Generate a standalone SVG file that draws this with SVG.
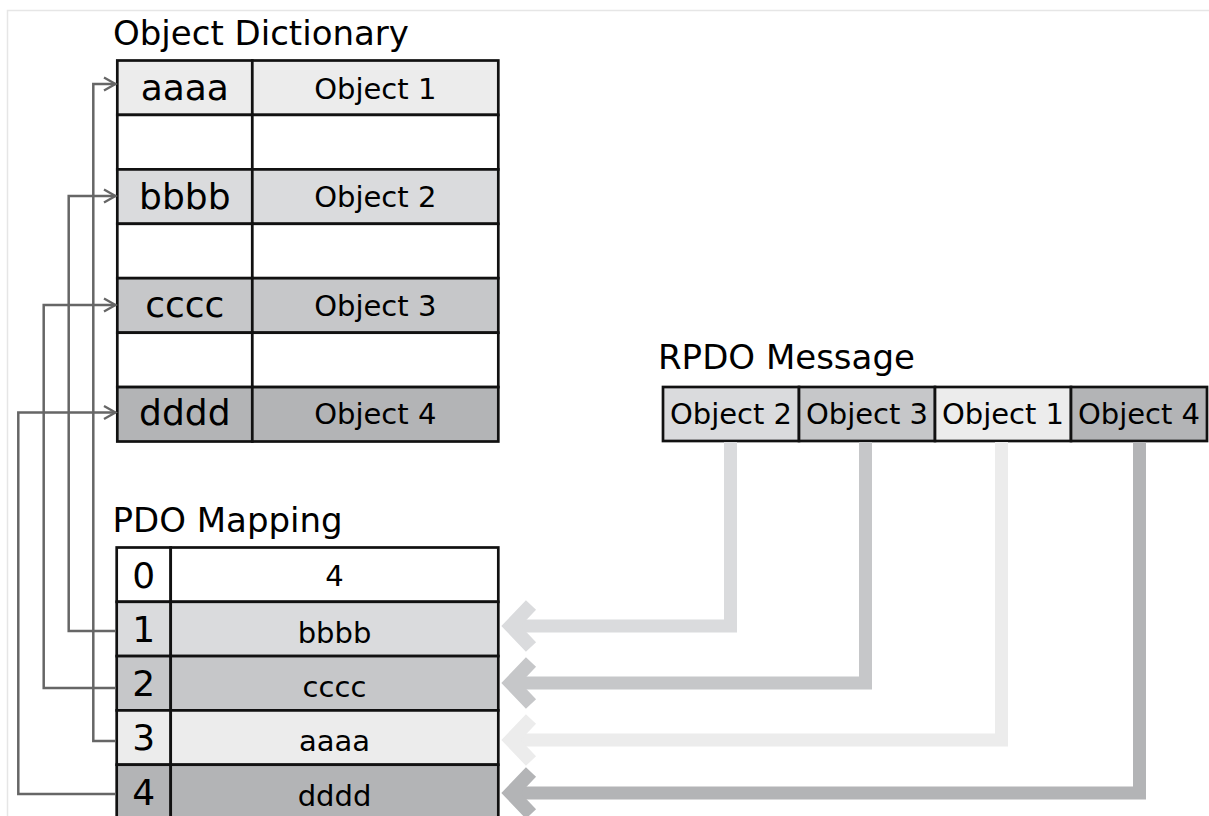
<svg xmlns="http://www.w3.org/2000/svg" width="1209" height="816" viewBox="0 0 1209 816">
<defs>
<style>
.t{font-family:"DejaVu Sans","Liberation Sans",sans-serif;fill:#000}
.title{font-size:34px}
.key{font-size:36px;text-anchor:middle}
.val{font-size:29px;text-anchor:middle}
.cell{stroke:#111;stroke-width:2.7}
.c0{fill:#ffffff}.c1{fill:#ececec}.c2{fill:#dadbdd}.c3{fill:#c6c7c9}.c4{fill:#b3b4b6}
.thin{fill:none;stroke:#666;stroke-width:2.5;marker-end:url(#ah)}
.thick{fill:none;stroke-width:13;stroke-linejoin:miter;stroke-linecap:butt}
.chev{fill:none;stroke-width:14;stroke-linejoin:miter;stroke-miterlimit:10;stroke-linecap:butt}
.s1{stroke:#ececec}.s2{stroke:#dadbdd}.s3{stroke:#c6c7c9}.s4{stroke:#b3b4b6}
</style>
<marker id="ah" markerUnits="userSpaceOnUse" markerWidth="16" markerHeight="16" refX="13" refY="8" orient="auto" viewBox="0 0 16 16" overflow="visible">
<path d="M1.5 1.5 L13 8 L1.5 14.5" fill="none" stroke="#666" stroke-width="2.3"/>
</marker>
</defs>
<rect width="1209" height="816" fill="#fff"/>
<path d="M7.5 820 V10.5 H1215" fill="none" stroke="#e6e6e6" stroke-width="1.5"/>

<text class="t title" x="113" y="45">Object Dictionary</text>
<text class="t title" x="112.5" y="532">PDO Mapping</text>
<text class="t title" x="658" y="369">RPDO Message</text>

<g id="od-aaaa">
<rect class="cell c1" x="117.3" y="60.5" width="135" height="54.4"/>
<rect class="cell c1" x="252.3" y="60.5" width="246" height="54.4"/>
<text class="t key" x="184.8" y="100">aaaa</text>
<text class="t val" x="375.3" y="99">Object 1</text>
</g>
<g id="od-empty1">
<rect class="cell c0" x="117.3" y="114.9" width="135" height="54.5"/>
<rect class="cell c0" x="252.3" y="114.9" width="246" height="54.5"/>
</g>
<g id="od-bbbb">
<rect class="cell c2" x="117.3" y="169.4" width="135" height="54.4"/>
<rect class="cell c2" x="252.3" y="169.4" width="246" height="54.4"/>
<text class="t key" x="184.8" y="209">bbbb</text>
<text class="t val" x="375.3" y="207">Object 2</text>
</g>
<g id="od-empty2">
<rect class="cell c0" x="117.3" y="223.8" width="135" height="54.4"/>
<rect class="cell c0" x="252.3" y="223.8" width="246" height="54.4"/>
</g>
<g id="od-cccc">
<rect class="cell c3" x="117.3" y="278.2" width="135" height="54.5"/>
<rect class="cell c3" x="252.3" y="278.2" width="246" height="54.5"/>
<text class="t key" x="184.8" y="317">cccc</text>
<text class="t val" x="375.3" y="316">Object 3</text>
</g>
<g id="od-empty3">
<rect class="cell c0" x="117.3" y="332.7" width="135" height="54.4"/>
<rect class="cell c0" x="252.3" y="332.7" width="246" height="54.4"/>
</g>
<g id="od-dddd">
<rect class="cell c4" x="117.3" y="387.1" width="135" height="54.4"/>
<rect class="cell c4" x="252.3" y="387.1" width="246" height="54.4"/>
<text class="t key" x="184.8" y="425">dddd</text>
<text class="t val" x="375.3" y="424">Object 4</text>
</g>

<g id="pdo-0">
<rect class="cell c0" x="116.7" y="547.5" width="54" height="54.3"/>
<rect class="cell c0" x="170.7" y="547.5" width="327.6" height="54.3"/>
<text class="t key" x="143.7" y="588">0</text>
<text class="t val" x="334.5" y="586">4</text>
</g>
<g id="pdo-1">
<rect class="cell c2" x="116.7" y="601.8" width="54" height="54.3"/>
<rect class="cell c2" x="170.7" y="601.8" width="327.6" height="54.3"/>
<text class="t key" x="143.7" y="642">1</text>
<text class="t val" x="334.5" y="643">bbbb</text>
</g>
<g id="pdo-2">
<rect class="cell c3" x="116.7" y="656.1" width="54" height="54.3"/>
<rect class="cell c3" x="170.7" y="656.1" width="327.6" height="54.3"/>
<text class="t key" x="143.7" y="696">2</text>
<text class="t val" x="334.5" y="697">cccc</text>
</g>
<g id="pdo-3">
<rect class="cell c1" x="116.7" y="710.4" width="54" height="54.3"/>
<rect class="cell c1" x="170.7" y="710.4" width="327.6" height="54.3"/>
<text class="t key" x="143.7" y="750">3</text>
<text class="t val" x="334.5" y="751">aaaa</text>
</g>
<g id="pdo-4">
<rect class="cell c4" x="116.7" y="764.7" width="54" height="54.3"/>
<rect class="cell c4" x="170.7" y="764.7" width="327.6" height="54.3"/>
<text class="t key" x="143.7" y="805">4</text>
<text class="t val" x="334.5" y="806">dddd</text>
</g>

<g id="rpdo">
<rect class="cell c2" x="663" y="387" width="136" height="54"/>
<rect class="cell c3" x="799" y="387" width="136" height="54"/>
<rect class="cell c1" x="935" y="387" width="136" height="54"/>
<rect class="cell c4" x="1071" y="387" width="136" height="54"/>
<text class="t val" x="731" y="424">Object 2</text>
<text class="t val" x="867" y="424">Object 3</text>
<text class="t val" x="1003" y="424">Object 1</text>
<text class="t val" x="1139" y="424">Object 4</text>
</g>

<g id="connectors">
<path class="thin" d="M116 741 H93.3 V84 H115.5"/>
<path class="thin" d="M116 631 H68.7 V196 H115.5"/>
<path class="thin" d="M116 688 H43.7 V305 H115.5"/>
<path class="thin" d="M116 794 H18.3 V412.5 H115.5"/>

<path class="thick s2" d="M510 626 H730.5 V442"/>
<path class="chev s2" d="M531 605 L511 626 L531 647"/>
<path class="thick s3" d="M510 683 H865.5 V442"/>
<path class="chev s3" d="M531 662 L511 683 L531 704"/>
<path class="thick s1" d="M510 740 H1001.5 V442"/>
<path class="chev s1" d="M531 719 L511 740 L531 761"/>
<path class="thick s4" d="M510 793 H1139.5 V442"/>
<path class="chev s4" d="M531 772 L511 793 L531 814"/>
</g>
</svg>
